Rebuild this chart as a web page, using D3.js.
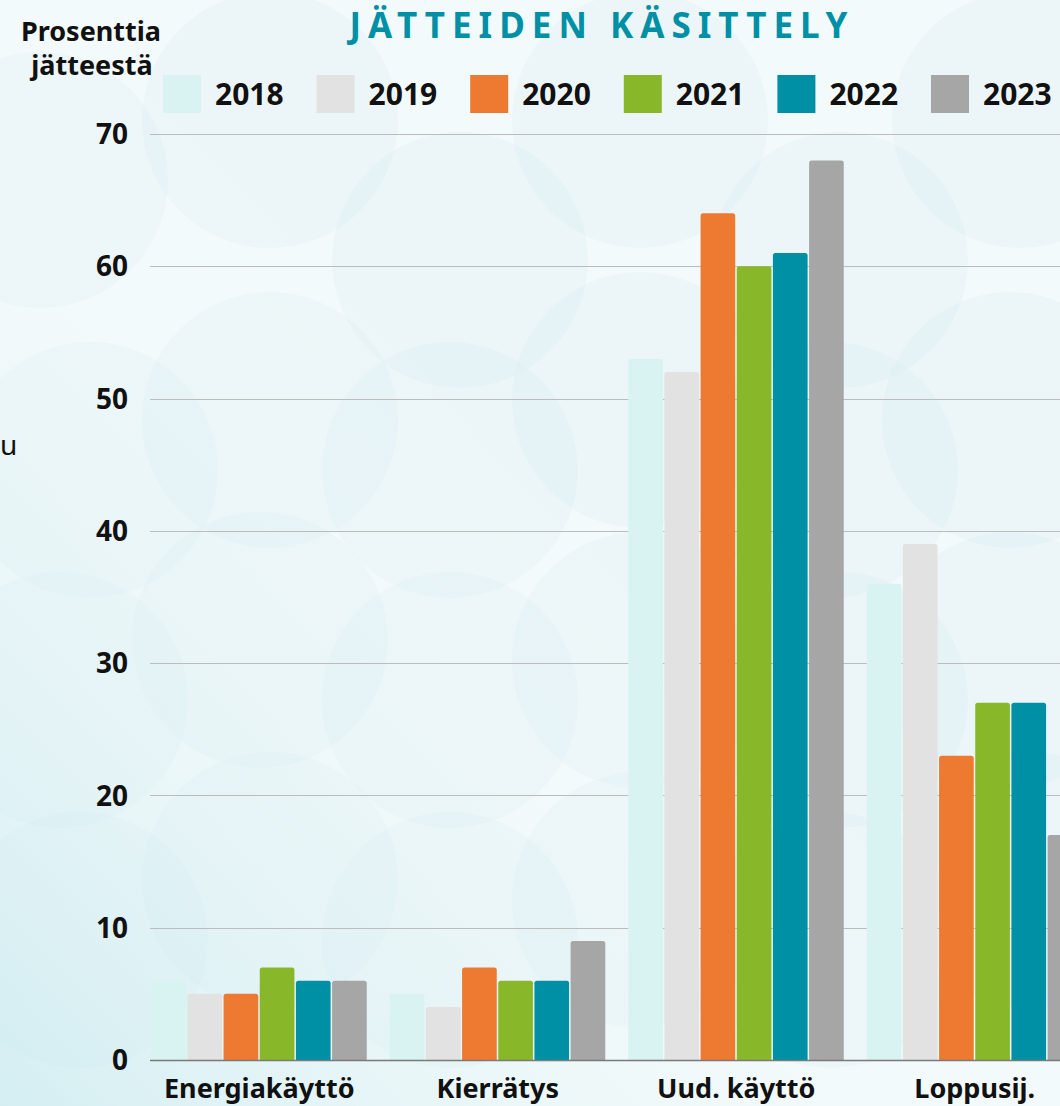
<!DOCTYPE html>
<html>
<head>
<meta charset="utf-8">
<script src="https://cdn.jsdelivr.net/npm/d3@7"></script>
<style>
  html, body { margin: 0; padding: 0; background: #f4fbfc; }
  svg { display: block; font-family: "Noto Sans", "Open Sans", sans-serif; }
</style>
</head>
<body>
<svg width="1060" height="1106"></svg>
<script>
var categories = ["Energiakäyttö", "Kierrätys", "Uud. käyttö", "Loppusij."];
var years = ["2018", "2019", "2020", "2021", "2022", "2023"];
var colors = ["#d9f2f2", "#e2e2e2", "#ee7a31", "#88b82a", "#0090a6", "#a6a6a6"];

var v2018 = [6, 5, 53, 36];
var v2019 = [5, 4, 52, 39];
var v2020 = [5, 7, 64, 23];
var v2021 = [7, 6, 60, 27];
var v2022 = [6, 6, 61, 27];
var v2023 = [6, 9, 68, 17];
var series = [v2018, v2019, v2020, v2021, v2022, v2023];

var yTicks = [0, 10, 20, 30, 40, 50, 60, 70];

var svg = d3.select("svg");
var width = 1060, height = 1106;

// background decoration
var bg = svg.append("g");
bg.append("rect").attr("width", width).attr("height", height).attr("fill", "#f3fafb");
var circles = [[40, 180], [270, 120], [460, 260], [640, 120], [840, 260], [1020, 120],
               [90, 470], [270, 420], [450, 470], [640, 400], [830, 470], [1010, 420],
               [60, 700], [260, 640], [450, 700], [640, 660], [840, 700], [1010, 660],
               [80, 940], [270, 880], [450, 940], [640, 900], [830, 940], [1030, 880]];
bg.selectAll("circle").data(circles).enter().append("circle")
  .attr("cx", function(d) { return d[0]; })
  .attr("cy", function(d) { return d[1]; })
  .attr("r", 128)
  .attr("fill", "#c9e9ee")
  .attr("opacity", 0.16);
var grad = svg.append("defs").append("linearGradient").attr("id", "fade")
  .attr("x1", "0").attr("y1", "1").attr("x2", "1").attr("y2", "0");
grad.append("stop").attr("offset", "0").attr("stop-color", "#bfe6ec").attr("stop-opacity", 0.6);
grad.append("stop").attr("offset", "0.55").attr("stop-color", "#ffffff").attr("stop-opacity", 0);
bg.append("rect").attr("width", width).attr("height", height).attr("fill", "url(#fade)");

// stray text from the left edge
svg.append("text").attr("x", 0).attr("y", 455).attr("font-size", 28).attr("fill", "#111").text("u");

var y = d3.scaleLinear().domain([0, 70]).range([1060, 134]);
var x0 = d3.scaleBand().domain(categories).range([140, 1094]).paddingInner(0.09).paddingOuter(0.045);
var x1 = d3.scaleBand().domain(years).range([0, x0.bandwidth()]);
var color = d3.scaleOrdinal().domain(years).range(colors);

// gridlines
svg.append("g").selectAll("line").data(yTicks.slice(1)).enter().append("line")
  .attr("x1", 150).attr("x2", width)
  .attr("y1", function(d) { return Math.round(y(d)) + 0.5; })
  .attr("y2", function(d) { return Math.round(y(d)) + 0.5; })
  .attr("stroke", "#bcbcbc").attr("stroke-width", 1);

// tick labels
svg.append("g").selectAll("text").data(yTicks).enter().append("text")
  .attr("x", 128).attr("y", function(d) { return y(d); }).attr("dy", "0.36em")
  .attr("text-anchor", "end").attr("font-size", 28).attr("font-weight", "bold").attr("fill", "#111")
  .text(function(d) { return d; });

// bars
var groups = svg.append("g").selectAll("g").data(categories).enter().append("g")
  .attr("transform", function(d) { return "translate(" + x0(d) + ",0)"; });
groups.selectAll("path").data(function(c, ci) {
    return years.map(function(yr, yi) { return { year: yr, value: series[yi][ci] }; });
  }).enter().append("path")
  .attr("d", function(d) {
    var bx = x1(d.year) + 0.5, bw = x1.bandwidth() - 1.5, top = y(d.value), bot = y(0), r = 2.5;
    return "M" + bx + "," + bot + "V" + (top + r) + "Q" + bx + "," + top + " " + (bx + r) + "," + top +
      "H" + (bx + bw - r) + "Q" + (bx + bw) + "," + top + " " + (bx + bw) + "," + (top + r) + "V" + bot + "Z";
  })
  .attr("fill", function(d) { return color(d.year); });

// baseline
svg.append("line").attr("x1", 150).attr("x2", width).attr("y1", 1060.5).attr("y2", 1060.5)
  .attr("stroke", "#7a7a7a").attr("stroke-width", 1.5);

// category labels
svg.append("g").selectAll("text").data(categories).enter().append("text")
  .attr("x", function(d) { return x0(d) + x0.bandwidth() / 2; })
  .attr("y", 1098).attr("text-anchor", "middle")
  .attr("font-size", 27).attr("font-weight", "bold").attr("fill", "#111")
  .text(function(d) { return d; });

// y-axis title
svg.append("text").attr("x", 91).attr("y", 41).attr("text-anchor", "middle")
  .attr("font-size", 27).attr("font-weight", "bold").attr("fill", "#111").text("Prosenttia");
svg.append("text").attr("x", 92).attr("y", 75).attr("text-anchor", "middle")
  .attr("font-size", 27).attr("font-weight", "bold").attr("fill", "#111").text("jätteestä");

// title
svg.append("text").attr("x", 602).attr("y", 38).attr("text-anchor", "middle")
  .attr("font-size", 35).attr("font-weight", "bold").attr("letter-spacing", 7)
  .attr("fill", "#0090a6").text("JÄTTEIDEN KÄSITTELY");

// legend
var legend = svg.append("g").selectAll("g").data(years).enter().append("g")
  .attr("transform", function(d, i) { return "translate(" + (163 + i * 153.6) + ",75)"; });
legend.append("rect").attr("width", 38).attr("height", 38)
  .attr("fill", function(d) { return color(d); });
legend.append("text").attr("x", 52).attr("y", 30)
  .attr("font-size", 30).attr("font-weight", "bold").attr("fill", "#111")
  .text(function(d) { return d; });
</script>
</body>
</html>
